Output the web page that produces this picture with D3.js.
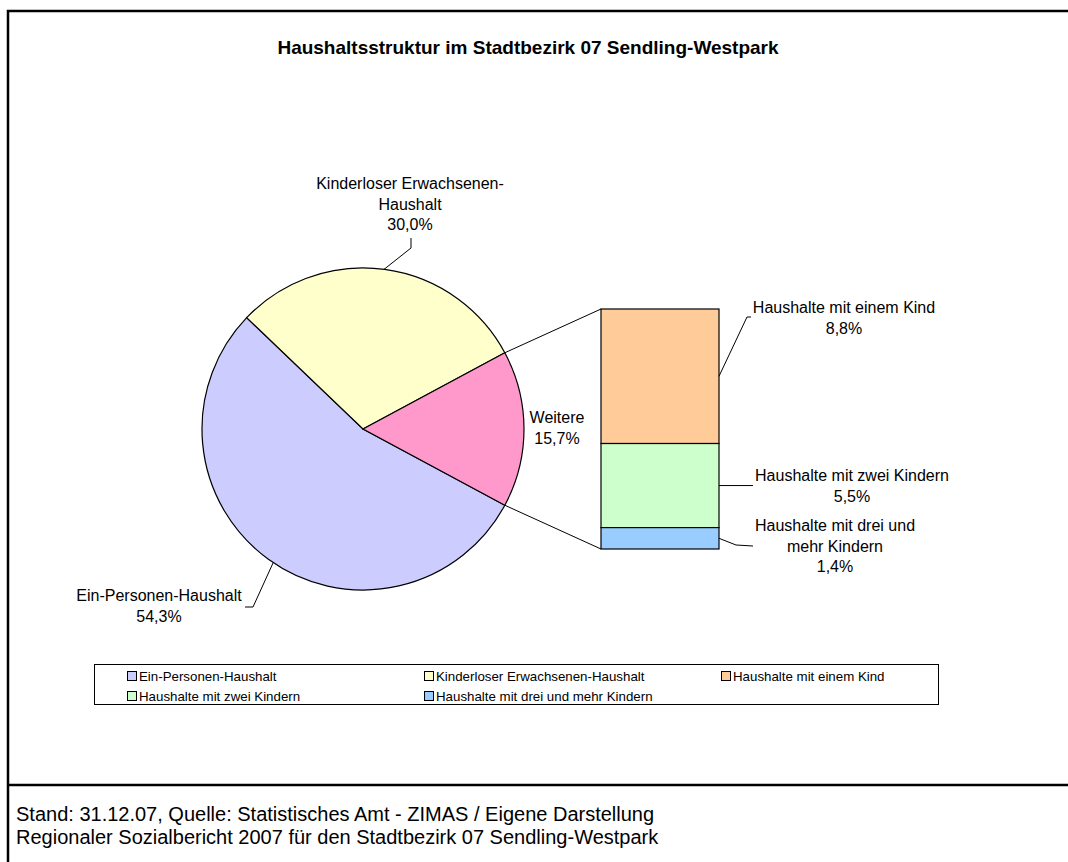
<!DOCTYPE html>
<html>
<head>
<meta charset="utf-8">
<script src="https://cdn.jsdelivr.net/npm/d3@7"></script>
<style>
  body { margin: 0; background: #fff; }
  text { font-family: "Liberation Sans", Arial, sans-serif; fill: #000; }
</style>
</head>
<body>
<div id="graph"></div>
<script>
// Anteile in Prozent
var kategorien_kreis = ["Ein-Personen-Haushalt", "Kinderloser Erwachsenen-Haushalt", "Weitere"];
var werte_kreis = [54.3, 30.0, 15.7];
var kategorien_balken = ["Haushalte mit einem Kind", "Haushalte mit zwei Kindern", "Haushalte mit drei und mehr Kindern"];
var werte_balken = [8.8, 5.5, 1.4];
var legende = ["Ein-Personen-Haushalt", "Kinderloser Erwachsenen-Haushalt", "Haushalte mit einem Kind",
               "Haushalte mit zwei Kindern", "Haushalte mit drei und mehr Kindern"];

var couleurs_kreis = ["#CCCCFF", "#FFFFCC", "#FF99CC"],
    couleurs_balken = ["#FFCC99", "#CCFFCC", "#99CCFF"],
    couleurs_legende = ["#CCCCFF", "#FFFFCC", "#FFCC99", "#CCFFCC", "#99CCFF"];

function format(v) { return v.toFixed(1).replace(".", ",") + "%"; }

function dessin() {
    var largeur = 1068, hauteur = 862,
        cx = 363, cy = 429, rayon = 161,
        svg = d3.select("#graph")
            .append("svg")
                .attr("width", largeur)
                .attr("height", hauteur);

    svg.append("rect").attr("width", largeur).attr("height", hauteur).attr("fill", "#fff");

    // cadre
    svg.append("rect")
        .attr("x", 8).attr("y", 11)
        .attr("width", largeur + 20).attr("height", hauteur + 20)
        .attr("fill", "none").attr("stroke", "#000").attr("stroke-width", 2.5);
    svg.append("line")
        .attr("x1", 8).attr("x2", largeur).attr("y1", 785).attr("y2", 785)
        .attr("stroke", "#000").attr("stroke-width", 2.5);

    svg.append("text")
        .attr("x", 528).attr("y", 54)
        .style("text-anchor", "middle")
        .style("font-weight", "bold")
        .style("font-size", "19px")
        .text("Haushaltsstruktur im Stadtbezirk 07 Sendling-Westpark");

    // Kreis: "Weitere" zentriert auf der rechten Seite
    var total = d3.sum(werte_kreis),
        debut = Math.PI / 2 + Math.PI * werte_kreis[2] / total,
        pie = d3.pie().sort(null).startAngle(debut).endAngle(debut + 2 * Math.PI),
        arcs = pie(werte_kreis),
        arc = d3.arc().innerRadius(0).outerRadius(rayon);

    var g = svg.append("g").attr("transform", "translate(" + cx + "," + cy + ")");
    g.selectAll("path")
        .data(arcs)
        .enter()
        .append("path")
        .attr("d", arc)
        .attr("fill", function (d, i) { return couleurs_kreis[i]; })
        .attr("stroke", "#000")
        .attr("stroke-width", 1.2);

    function point(a, r) { return [cx + r * Math.sin(a), cy - r * Math.cos(a)]; }

    // Balken
    var bx0 = 601, bx1 = 719, byHaut = 309, byBas = 549,
        y = d3.scaleLinear().domain([0, d3.sum(werte_balken)]).range([byHaut, byBas]),
        cumul = d3.cumsum([0].concat(werte_balken)),
        segments = werte_balken.map(function (v, i) { return {v: v, y0: cumul[i], y1: cumul[i + 1], i: i}; });

    svg.selectAll(".segment")
        .data(segments)
        .enter()
        .append("rect")
        .attr("x", bx0)
        .attr("y", function (d) { return y(d.y0); })
        .attr("width", bx1 - bx0)
        .attr("height", function (d) { return y(d.y1) - y(d.y0); })
        .attr("fill", function (d) { return couleurs_balken[d.i]; })
        .attr("stroke", "#000")
        .attr("stroke-width", 1.2);

    // Verbindungslinien Kreis -> Balken
    var pA = point(arcs[2].startAngle, rayon), pB = point(arcs[2].endAngle, rayon);
    svg.append("line").attr("x1", pA[0]).attr("y1", pA[1]).attr("x2", bx0).attr("y2", byHaut)
        .attr("stroke", "#000").attr("stroke-width", 1);
    svg.append("line").attr("x1", pB[0]).attr("y1", pB[1]).attr("x2", bx0).attr("y2", byBas)
        .attr("stroke", "#000").attr("stroke-width", 1);

    function etiquette(x, y0, lignes) {
        var t = svg.append("text")
            .attr("x", x)
            .style("text-anchor", "middle")
            .style("font-size", "16px");
        lignes.forEach(function (l, i) {
            t.append("tspan").attr("x", x).attr("y", y0 + i * 20.7).text(l);
        });
    }
    function trait(pts) {
        svg.append("path")
            .attr("d", d3.line()(pts))
            .attr("fill", "none")
            .attr("stroke", "#000")
            .attr("stroke-width", 1);
    }

    // Beschriftungen Kreis
    etiquette(410, 189, ["Kinderloser Erwachsenen-", "Haushalt", format(werte_kreis[1])]);
    var pK = point(7.5 * Math.PI / 180, rayon);
    trait([[411, 238], [411, 248], pK]);

    etiquette(557, 423, ["Weitere", format(werte_kreis[2])]);

    etiquette(159, 601, ["Ein-Personen-Haushalt", format(werte_kreis[0])]);
    var pE = point(213.9 * Math.PI / 180, rayon);
    trait([pE, [253, 607], [245, 607]]);

    // Beschriftungen Balken
    var milieu = segments.map(function (d) { return (y(d.y0) + y(d.y1)) / 2; });
    etiquette(844, 313, ["Haushalte mit einem Kind", format(werte_balken[0])]);
    trait([[bx1, milieu[0]], [747, 317], [751, 317]]);

    etiquette(852, 481, ["Haushalte mit zwei Kindern", format(werte_balken[1])]);
    trait([[bx1, milieu[1]], [753, milieu[1]]]);

    etiquette(835, 531, ["Haushalte mit drei und", "mehr Kindern", format(werte_balken[2])]);
    trait([[bx1, milieu[2]], [736, 545], [753, 546]]);

    // Legende
    svg.append("rect")
        .attr("x", 94.5).attr("y", 664.5).attr("width", 844).attr("height", 40)
        .attr("fill", "#fff").attr("stroke", "#000").attr("stroke-width", 1);

    var item = svg.selectAll(".legende")
        .data(legende)
        .enter()
        .append("g")
        .attr("transform", function (d, i) {
            return "translate(" + (139 + (i % 3) * 297) + "," + (676 + Math.floor(i / 3) * 20) + ")";
        });
    item.append("rect")
        .attr("x", -11.5).attr("y", -4.5).attr("width", 9).attr("height", 9)
        .attr("fill", function (d, i) { return couleurs_legende[i]; })
        .attr("stroke", "#000").attr("stroke-width", 1);
    item.append("text")
        .attr("y", 4.5)
        .style("font-size", "13.3px")
        .text(function (d) { return d; });

    // Quelle
    var pied = svg.append("text").style("font-size", "20px");
    pied.append("tspan").attr("x", 16).attr("y", 821)
        .text("Stand: 31.12.07, Quelle: Statistisches Amt - ZIMAS / Eigene Darstellung");
    pied.append("tspan").attr("x", 16).attr("y", 844)
        .text("Regionaler Sozialbericht 2007 für den Stadtbezirk 07 Sendling-Westpark");
}

dessin();
</script>
</body>
</html>
